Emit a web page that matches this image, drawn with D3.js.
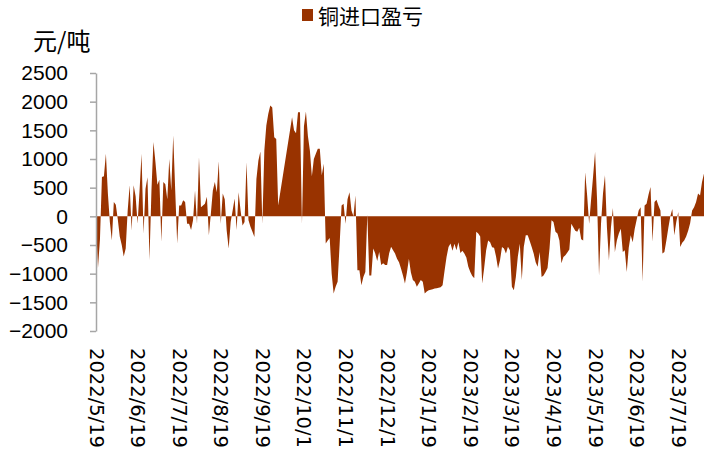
<!DOCTYPE html>
<html><head><meta charset="utf-8">
<script src="https://cdn.jsdelivr.net/npm/d3@7"></script>
<style>body{margin:0;background:#fff}</style>
</head><body><svg id="c" width="716" height="453"></svg>
<script>
const seriesName = "铜进口盈亏";
const unitLabel = "元/吨";
const tickLabels = ["2022/5/19","2022/6/19","2022/7/19","2022/8/19","2022/9/19","2022/10/1","2022/11/1","2022/12/1","2023/1/19","2023/2/19","2023/3/19","2023/4/19","2023/5/19","2023/6/19","2023/7/19"];
const labelEvery = 21;
const yTicks = [-2000,-1500,-1000,-500,0,500,1000,1500,2000,2500];
const profit = [
-100,-900,-400,685,700,1090,400,-100,-420,250,
200,-50,-350,-500,-700,-560,100,540,-245,540,
350,-130,450,1090,-300,480,680,-765,450,1295,
950,550,640,-445,600,560,300,1000,450,1410,
450,-475,190,190,280,250,-130,-130,-240,-70,
450,-130,1030,160,190,220,340,-330,50,450,
600,420,960,-130,400,300,-250,-560,-100,100,
310,-240,420,100,-160,-100,945,-70,-180,-270,
-360,650,975,1130,-130,1150,1585,1790,1935,1900,
1380,1350,190,null,null,null,null,null,null,1730,
1500,1450,1815,1815,-130,1570,1830,1400,1150,700,
1000,1090,1180,1180,715,915,-475,-420,-380,-1000,
-1345,-1230,-1140,-500,190,220,-130,300,420,100,
0,365,-940,-940,-1200,-1060,-970,30,-1030,-1030,
-560,-650,-780,-620,-850,-820,-850,-850,-650,-530,
-590,-650,-740,-800,-910,-1030,-1170,-980,-740,-980,
-1110,-1140,-1230,-1170,-1110,-1140,-1345,-1310,-1290,-1280,
-1270,-1260,-1255,-1245,-1235,-1200,-950,-710,-535,-475,
-600,-480,-590,-450,-640,-600,-650,-720,-880,-970,
-1040,-1080,-270,-300,-350,-1170,-900,-590,-420,-450,
-540,-550,-700,-910,-765,-535,-560,-650,-530,-590,
-1230,-1290,-1060,-700,-480,-1110,-535,-330,-330,-430,
-535,-650,-800,-880,-620,-1060,-1030,-970,-900,-560,
-70,-100,-270,-300,-420,-820,-710,-680,-630,-580,
-130,-190,-250,-270,-200,-400,-420,770,365,-130,
300,700,1120,300,-1030,-130,400,715,-200,-765,
-200,145,-620,-420,-300,-215,-620,-590,-970,-550,
-330,-450,-220,-60,100,160,-1140,190,220,380,
510,-445,250,290,190,100,-650,-620,-420,-200,
0,130,-330,-100,75,-535,-460,-420,-350,-250,
-120,100,160,250,400,365,600,745
];

const svg = d3.select("#c");
const color = "#993300";
const x = d3.scaleLinear().domain([0, profit.length - 1]).range([96, 704]);
const y = d3.scaleLinear().domain([-2000, 2500]).range([331, 73]);

const pts = profit.map((v, i) => ({i, v})).filter(d => d.v !== null);
const area = d3.area().x(d => x(d.i)).y0(y(0)).y1(d => y(d.v));
svg.append("path").datum(pts).attr("d", area).attr("fill", color);

const yAxis = d3.axisLeft(y).tickValues(yTicks).tickFormat(d3.format("d"))
  .tickSize(6).tickSizeOuter(0).tickPadding(22);
const gy = svg.append("g").attr("transform", "translate(96,0)").call(yAxis);
gy.select(".domain").attr("stroke", "#A6A6A6").attr("stroke-width", 1.5);
gy.selectAll(".tick line").attr("stroke", "#A6A6A6").attr("stroke-width", 1.5);
gy.selectAll(".tick text").attr("fill", "#000").style("font-family", "'Liberation Sans', Arial, sans-serif").style("font-size", "21px");

const labelIdx = tickLabels.map((t, k) => ({t, i: k * labelEvery}));
svg.append("g").selectAll("text").data(labelIdx).join("text")
  .attr("transform", d => `translate(${x(d.i)},348) rotate(90)`)
  .attr("dominant-baseline", "central")
  .attr("text-anchor", "start")
  .style("font-family", "'DejaVu Sans', sans-serif")
  .style("font-size", "19.5px")
  .attr("fill", "#000")
  .text(d => d.t);

svg.append("text").attr("x", 33).attr("y", 50)
  .style("font-family", "'Noto Sans CJK SC', sans-serif").style("font-size", "24px")
  .attr("fill", "#000").text(unitLabel);

svg.append("rect").attr("x", 302).attr("y", 9).attr("width", 11).attr("height", 12).attr("fill", color);
svg.append("text").attr("x", 318).attr("y", 15).attr("dominant-baseline", "central")
  .style("font-family", "'Noto Sans CJK SC', sans-serif").style("font-size", "21px")
  .attr("fill", "#000").text(seriesName);
</script></body></html>
